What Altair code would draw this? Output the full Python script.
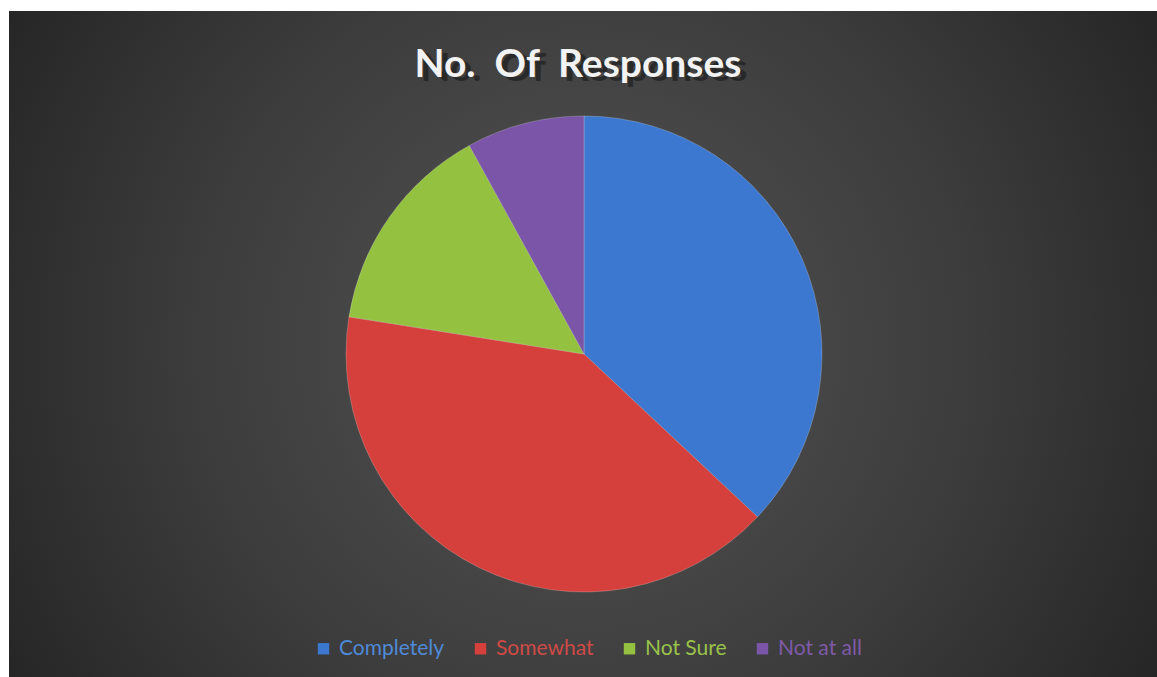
import altair as alt
import pandas as pd

categories = ["Completely", "Somewhat", "Not Sure", "Not at all"]
values = [37, 40.5, 14.5, 8]
colors = ["#3c78cf", "#d5403d", "#94c240", "#7b56a8"]
label_colors = ["#4f8ad8", "#cf4a47", "#9bc24a", "#7e5aa8"]
title_text = "No.\u00a0\u00a0Of\u00a0\u00a0Responses"

df = pd.DataFrame({"category": categories, "value": values, "idx": list(range(len(categories)))})
one = pd.DataFrame({"a": [0]})

W, H = 1157, 677

bg = alt.Chart(one).mark_rect(
    color=alt.RadialGradient(
        gradient="radial",
        x1=0.5, y1=0.5, r1=0.0,
        x2=0.5, y2=0.5, r2=0.62,
        stops=[
            alt.GradientStop(offset=0.0, color="#545454"),
            alt.GradientStop(offset=0.55, color="#3c3c3c"),
            alt.GradientStop(offset=1.0, color="#222222"),
        ],
    )
).encode(x=alt.value(9), x2=alt.value(W), y=alt.value(11), y2=alt.value(H))

label_expr = " : ".join(
    [f"datum.value == '{c}' ? '{lc}'" for c, lc in zip(categories, label_colors)] + ["'#ffffff'"]
)

pie = alt.Chart(df).mark_arc(radius=238, stroke="#ffffff", strokeWidth=0.6, strokeOpacity=0.35).encode(
    theta=alt.Theta("value:Q", stack=True),
    order=alt.Order("idx:Q"),
    color=alt.Color(
        "category:N",
        scale=alt.Scale(domain=categories, range=colors),
        legend=alt.Legend(
            title=None,
            orient="none",
            direction="horizontal",
            legendX=313,
            legendY=638,
            symbolType="square",
            symbolSize=130,
            symbolStrokeWidth=0,
            symbolOpacity=1,
            labelFontSize=21,
            labelFont="Lato",
            labelOffset=5,
            columnPadding=25,
            labelColor={"expr": label_expr},
        ),
    ),
    x=alt.value(584),
    y=alt.value(354),
)

shadow = alt.Chart(one).mark_text(
    text=title_text, font="Lato", fontSize=39, fontWeight="bold",
    color="#111111", opacity=0.5, align="center", baseline="middle"
).encode(x=alt.value(584), y=alt.value(69))

title = alt.Chart(one).mark_text(
    text=title_text, font="Lato", fontSize=39, fontWeight="bold",
    color="#f2f2f2", align="center", baseline="middle"
).encode(x=alt.value(578), y=alt.value(65))

chart = alt.layer(bg, pie, shadow, title).properties(
    width=W, height=H, padding=0, autosize=alt.AutoSizeParams(type="none"), background="#ffffff"
).configure_view(stroke=None)

chart.save("out.html", embed_options={"renderer": "svg", "actions": False})
